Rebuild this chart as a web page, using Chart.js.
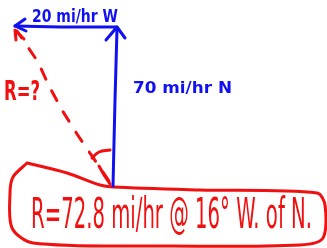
<!DOCTYPE html>
<html>
<head>
<meta charset="utf-8">
<script src="https://cdn.jsdelivr.net/npm/chart.js@4/dist/chart.umd.min.js"></script>
<style>
  html, body { margin: 0; padding: 0; background: #fff; }
  #wrap { width: 327px; height: 248px; }
</style>
</head>
<body>
<div id="wrap"><canvas id="vectorChart" width="327" height="248"></canvas></div>
<script>
// polylines of the sketch, in picture units (x right, y down)
const northX = [113, 115, 117];
const northY = [186, 100, 29];
const northHeadX = [106, 117, 125];
const northHeadY = [40, 27, 38];

const westX = [117, 60, 15];
const westY = [27, 27, 26];
const westHeadX = [25, 15, 26];
const westHeadY = [19, 26, 31];

const resultX = [109, 77, 62, 49, 38, 17];
const resultY = [181, 134, 110, 86, 62, 31];
const resultHeadX = [24, 15, 16];
const resultHeadY = [39, 30, 40];

const angleX = [92, 99, 110];
const angleY = [158, 152, 150];
const angleTickX = [99, 104, 110];
const angleTickY = [166, 175, 184];

const boxX = [27, 67, 100, 113, 200, 317, 325, 323, 300, 160, 33, 12, 10, 13, 27];
const boxY = [163, 173, 185, 187, 190, 193, 205, 238, 245, 246, 243, 228, 193, 177, 163];

// text labels: left x, baseline y, target width
const labelText = ['20 mi/hr W', '70 mi/hr N', 'R=?', 'R=72.8 mi/hr @ 16° W. of N.'];
const labelX = [32, 133, 4, 31];
const labelY = [22, 93, 100, 228];
const labelWidth = [86, 99, 36, 281];
const labelColor = ['#1010f0', '#1010f0', '#f01010', '#f01010'];
const labelFont = ['bold 17px "DejaVu Sans"', 'bold 16px "DejaVu Sans"', 'bold 27px "DejaVu Sans"', '42px "DejaVu Sans"'];

const blue = '#1010f0';
const red = '#f01010';

function pts(xs, ys) {
    return xs.map((x, i) => ({ x: x, y: ys[i] }));
}

function stroke(xs, ys, color, extra) {
    return Object.assign({
        data: pts(xs, ys),
        showLine: true,
        borderColor: color,
        borderWidth: 3,
        pointRadius: 0,
        fill: false,
        borderCapStyle: 'round',
        borderJoinStyle: 'round'
    }, extra || {});
}

const textPlugin = {
    id: 'sketchText',
    afterDatasetsDraw(chart) {
        const ctx = chart.ctx;
        const sx = chart.scales.x;
        const sy = chart.scales.y;
        labelText.forEach((t, i) => {
            ctx.save();
            ctx.font = labelFont[i];
            ctx.fillStyle = labelColor[i];
            ctx.textBaseline = 'alphabetic';
            const w = ctx.measureText(t).width;
            ctx.translate(sx.getPixelForValue(labelX[i]), sy.getPixelForValue(labelY[i]));
            ctx.scale(labelWidth[i] / w, 1);
            ctx.fillText(t, 0, 0);
            ctx.restore();
        });
    }
};

const ctx = document.getElementById('vectorChart').getContext('2d');
new Chart(ctx, {
    type: 'scatter',
    data: {
        datasets: [
            stroke(northX, northY, blue),
            stroke(northHeadX, northHeadY, blue),
            stroke(westX, westY, blue),
            stroke(westHeadX, westHeadY, blue),
            stroke(resultX, resultY, red, { borderDash: [11, 13] }),
            stroke(resultHeadX, resultHeadY, red),
            stroke(angleX, angleY, red, { tension: 0.4 }),
            stroke(angleTickX, angleTickY, red),
            stroke(boxX, boxY, red, { tension: 0.3 })
        ]
    },
    options: {
        responsive: false,
        animation: false,
        layout: { padding: 0 },
        plugins: {
            legend: { display: false },
            tooltip: { enabled: false }
        },
        scales: {
            x: { type: 'linear', min: 0, max: 327, display: false },
            y: { type: 'linear', min: 0, max: 248, reverse: true, display: false }
        }
    },
    plugins: [textPlugin]
});
</script>
</body>
</html>
